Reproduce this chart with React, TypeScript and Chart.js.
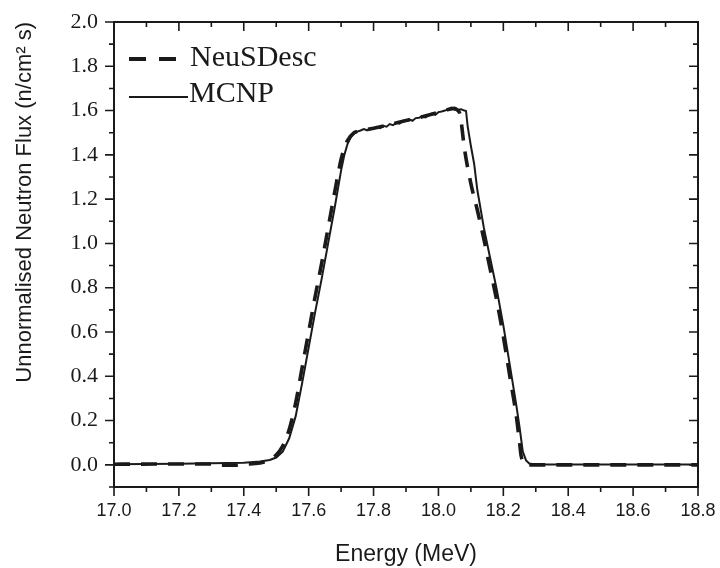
import React, { useEffect, useRef } from "react";
import { Chart, registerables } from "chart.js";

Chart.register(...registerables);

// ---- tick labels ----
const xMajorTicks = [17.0, 17.2, 17.4, 17.6, 17.8, 18.0, 18.2, 18.4, 18.6, 18.8];
const xMinorTicks = [17.1, 17.3, 17.5, 17.7, 17.9, 18.1, 18.3, 18.5, 18.7];
const yMajorTicks = [0.0, 0.2, 0.4, 0.6, 0.8, 1.0, 1.2, 1.4, 1.6, 1.8, 2.0];
const yMinorTicks = [-0.1, 0.1, 0.3, 0.5, 0.7, 0.9, 1.1, 1.3, 1.5, 1.7, 1.9];

const seriesNames = ["NeuSDesc", "MCNP"];

// ---- MCNP (solid) ----
const mcnpEnergy = [
  17.0, 17.1, 17.2, 17.3, 17.4, 17.45, 17.48, 17.5, 17.52, 17.54, 17.56, 17.58, 17.6,
  17.62, 17.64, 17.66, 17.68, 17.7, 17.71, 17.72, 17.73, 17.74, 17.75, 17.76, 17.77,
  17.78, 17.79, 17.8, 17.81, 17.82, 17.83, 17.84, 17.85, 17.86, 17.87, 17.88, 17.89,
  17.9, 17.91, 17.92, 17.93, 17.94, 17.95, 17.96, 17.97, 17.98, 17.99, 18.0, 18.01,
  18.02, 18.03, 18.04, 18.05, 18.06, 18.07, 18.08, 18.085, 18.09, 18.1, 18.11, 18.12,
  18.14, 18.16, 18.18, 18.2, 18.22, 18.24, 18.25, 18.26, 18.27, 18.28, 18.3, 18.5, 18.8,
];
const mcnpFlux = [
  0.003, 0.004, 0.005, 0.007, 0.01, 0.015, 0.022, 0.033, 0.06, 0.12, 0.22, 0.37, 0.53,
  0.69, 0.84, 1.0, 1.16, 1.33, 1.4, 1.45, 1.48, 1.497, 1.505, 1.51, 1.516,
  1.511, 1.521, 1.517, 1.526, 1.521, 1.531, 1.527, 1.539, 1.534, 1.546, 1.541, 1.553,
  1.555, 1.56, 1.554, 1.566, 1.568, 1.573, 1.569, 1.579, 1.586, 1.581, 1.593, 1.596,
  1.6, 1.606, 1.613, 1.604, 1.604, 1.606, 1.6, 1.598, 1.53, 1.44, 1.36, 1.24,
  1.07, 0.93, 0.79, 0.63, 0.45, 0.27, 0.17, 0.06, 0.02, 0.006, 0.002, 0.002, 0.002,
];

// ---- NeuSDesc (dashed) ----
const neusEnergy = [
  17.0, 17.3, 17.33, 17.37, 17.4, 17.45, 17.48, 17.5, 17.52, 17.54, 17.56, 17.58, 17.6,
  17.62, 17.64, 17.66, 17.68, 17.7, 17.71, 17.72, 17.74, 17.75, 17.8, 17.85, 17.9,
  17.95, 18.0, 18.03, 18.05, 18.06, 18.065, 18.07, 18.08, 18.1, 18.12, 18.14, 18.16,
  18.18, 18.2, 18.22, 18.24, 18.25, 18.255, 18.27, 18.3, 18.8,
];
const neusFlux = [
  0.003, 0.004, -0.002, -0.002, 0.003, 0.008, 0.025, 0.045, 0.085, 0.16, 0.28, 0.44, 0.6,
  0.76, 0.91, 1.07, 1.23, 1.38, 1.43, 1.465, 1.5, 1.505, 1.52, 1.537, 1.555,
  1.572, 1.592, 1.605, 1.61, 1.6, 1.59, 1.55, 1.43, 1.27, 1.15, 1.02, 0.88,
  0.74, 0.58, 0.4, 0.22, 0.1, 0.04, 0.0, 0.0, 0.0,
];

const INK = "#1a1a1a";
const SERIF = "'Liberation Serif', 'Times New Roman', serif";
const SANS = "'Liberation Sans', Arial, sans-serif";

const framePlugin = {
  id: "frameTicksLegend",
  afterDraw(chart: any) {
    const { ctx, chartArea: a, scales } = chart;
    const x = scales.x;
    const y = scales.y;
    ctx.save();
    ctx.strokeStyle = INK;
    ctx.lineWidth = 2;
    ctx.setLineDash([]);
    ctx.strokeRect(a.left, a.top, a.right - a.left, a.bottom - a.top);

    ctx.lineWidth = 1.6;
    ctx.beginPath();
    const major = 9;
    const minor = 5;
    for (const v of xMajorTicks) {
      const px = x.getPixelForValue(v);
      ctx.moveTo(px, a.bottom);
      ctx.lineTo(px, a.bottom + major);
      ctx.moveTo(px, a.top);
      ctx.lineTo(px, a.top + major);
    }
    for (const v of xMinorTicks) {
      const px = x.getPixelForValue(v);
      ctx.moveTo(px, a.bottom);
      ctx.lineTo(px, a.bottom + minor);
      ctx.moveTo(px, a.top);
      ctx.lineTo(px, a.top + minor);
    }
    for (const v of yMajorTicks) {
      const py = y.getPixelForValue(v);
      ctx.moveTo(a.left, py);
      ctx.lineTo(a.left - major, py);
      ctx.moveTo(a.right, py);
      ctx.lineTo(a.right - major, py);
    }
    for (const v of yMinorTicks) {
      const py = y.getPixelForValue(v);
      ctx.moveTo(a.left, py);
      ctx.lineTo(a.left - minor, py);
      ctx.moveTo(a.right, py);
      ctx.lineTo(a.right - minor, py);
    }
    ctx.stroke();

    // legend
    ctx.fillStyle = INK;
    ctx.font = `30px ${SERIF}`;
    ctx.textBaseline = "alphabetic";
    ctx.textAlign = "left";
    ctx.lineWidth = 4;
    ctx.setLineDash([17, 13]);
    ctx.beginPath();
    ctx.moveTo(129, 59);
    ctx.lineTo(177, 59);
    ctx.stroke();
    ctx.fillText(seriesNames[0], 190, 66);
    ctx.setLineDash([]);
    ctx.lineWidth = 2;
    ctx.beginPath();
    ctx.moveTo(129, 97);
    ctx.lineTo(188, 97);
    ctx.stroke();
    ctx.fillText(seriesNames[1], 189, 102);
    ctx.restore();
  },
};

export default function App() {
  const canvasRef = useRef<HTMLCanvasElement | null>(null);

  useEffect(() => {
    document.body.style.margin = "0";
    const canvas = canvasRef.current;
    if (!canvas) return;
    const chart = new Chart(canvas, {
      type: "line",
      data: {
        datasets: [
          {
            label: seriesNames[1],
            data: mcnpEnergy.map((e, i) => ({ x: e, y: mcnpFlux[i] })),
            borderColor: INK,
            borderWidth: 2,
            pointRadius: 0,
            tension: 0,
            order: 0,
          },
          {
            label: seriesNames[0],
            data: neusEnergy.map((e, i) => ({ x: e, y: neusFlux[i] })),
            borderColor: INK,
            borderWidth: 3.6,
            borderDash: [16, 11],
            pointRadius: 0,
            cubicInterpolationMode: "monotone",
            order: 1,
          },
        ],
      },
      options: {
        animation: false,
        responsive: false,
        maintainAspectRatio: false,
        layout: { padding: { top: 22, right: 22, left: 0, bottom: 0 } },
        plugins: { legend: { display: false }, tooltip: { enabled: false } },
        scales: {
          x: {
            type: "linear",
            min: 17.0,
            max: 18.8,
            grid: { display: false, drawTicks: false },
            border: { display: false },
            afterBuildTicks: (s: any) => {
              s.ticks = xMajorTicks.map((v) => ({ value: v }));
            },
            afterFit: (s: any) => {
              s.height = 81;
              s.paddingLeft = 0;
              s.paddingRight = 0;
            },
            ticks: {
              padding: 13,
              color: INK,
              font: { family: SANS, size: 18 },
              callback: (v: any) => Number(v).toFixed(1),
            },
            title: {
              display: true,
              text: "Energy (MeV)",
              color: INK,
              font: { family: SANS, size: 23 },
              padding: { top: 0, bottom: 0 },
            },
          },
          y: {
            type: "linear",
            min: -0.1,
            max: 2.0,
            grid: { display: false, drawTicks: false },
            border: { display: false },
            afterBuildTicks: (s: any) => {
              s.ticks = yMajorTicks.map((v) => ({ value: v }));
            },
            afterFit: (s: any) => {
              s.width = 114;
              s.paddingTop = 0;
              s.paddingBottom = 0;
            },
            ticks: {
              padding: 16,
              color: INK,
              font: { family: SERIF, size: 22 },
              callback: (v: any) => Number(v).toFixed(1),
            },
            title: {
              display: true,
              text: "Unnormalised Neutron Flux (n/cm² s)",
              align: "end",
              color: INK,
              font: { family: SANS, size: 22 },
              padding: { top: 12, bottom: 0 },
            },
          },
        },
      },
      plugins: [framePlugin],
    });
    return () => chart.destroy();
  }, []);

  return (
    <div style={{ width: 720, height: 568, position: "relative" }}>
      <canvas ref={canvasRef} width={720} height={568} style={{ width: 720, height: 568, display: "block" }} />
    </div>
  );
}
